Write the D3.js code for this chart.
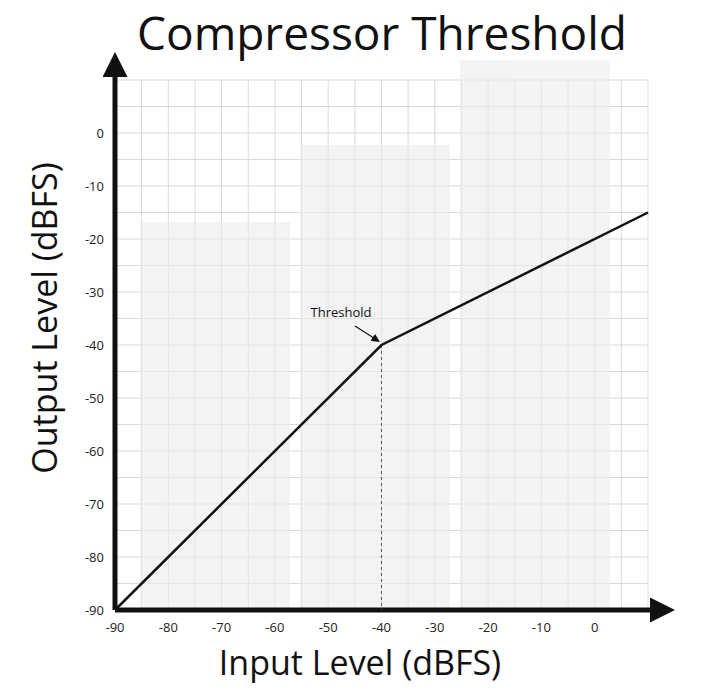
<!DOCTYPE html>
<html><head><meta charset="utf-8">
<script src="https://cdn.jsdelivr.net/npm/d3@7"></script>
<style>body{margin:0;background:#fff}</style>
</head><body><div id="chart"></div>
<script>
// transfer curve points (input dBFS, output dBFS)
const curveIn = [-90, -40, 10]
const curveOut = [-90, -40, -15]
const xTicks = [-90, -80, -70, -60, -50, -40, -30, -20, -10, 0]
const yTicks = [-90, -80, -70, -60, -50, -40, -30, -20, -10, 0]
const thresholdValue = -40

const W = 720, H = 691
const svg = d3.select('#chart').append('svg').attr('width', W).attr('height', H)

const x = d3.scaleLinear().domain([-90, 10]).range([115, 648])
const y = d3.scaleLinear().domain([-90, 10]).range([610, 80])

// grid
const grid = svg.append('g').attr('stroke', '#d9d9d9').attr('stroke-width', 1)
d3.range(-90, 11, 5).forEach(v => {
  grid.append('line').attr('x1', x(v)).attr('x2', x(v)).attr('y1', y(-90)).attr('y2', y(10))
  grid.append('line').attr('y1', y(v)).attr('y2', y(v)).attr('x1', x(-90)).attr('x2', x(10))
})

// faint watermark blocks
const wm = svg.append('g').attr('fill', '#ececec').attr('opacity', 0.6)
wm.append('rect').attr('x', 140).attr('y', 222).attr('width', 150).attr('height', 388)
wm.append('rect').attr('x', 300).attr('y', 145).attr('width', 150).attr('height', 465)
wm.append('rect').attr('x', 460).attr('y', 60).attr('width', 150).attr('height', 550)

// axes arrows
svg.append('defs').append('marker').attr('id', 'arr').attr('viewBox', '0 0 10 10')
  .attr('refX', 2).attr('refY', 5).attr('markerWidth', 5).attr('markerHeight', 5).attr('orient', 'auto')
  .append('path').attr('d', 'M0,0L10,5L0,10z').attr('fill', '#111')
svg.append('line').attr('x1', x(-90)).attr('y1', y(-90)).attr('x2', x(-90)).attr('y2', 72)
  .attr('stroke', '#111').attr('stroke-width', 5).attr('marker-end', 'url(#arr)')
svg.append('line').attr('x1', x(-90)).attr('y1', y(-90)).attr('x2', 655).attr('y2', y(-90))
  .attr('stroke', '#111').attr('stroke-width', 5).attr('marker-end', 'url(#arr)')

const font = 'Open Sans, sans-serif'
svg.append('g').selectAll('text').data(xTicks).join('text')
  .attr('x', d => x(d)).attr('y', y(-90) + 22).attr('text-anchor', 'middle')
  .attr('font-family', font).attr('font-size', 13).attr('fill', '#222').text(d => d)
svg.append('g').selectAll('text').data(yTicks).join('text')
  .attr('x', 104).attr('y', d => y(d) + 5).attr('text-anchor', 'end')
  .attr('font-family', font).attr('font-size', 13).attr('fill', '#222').text(d => d)

// threshold dashed line
svg.append('line').attr('x1', x(thresholdValue)).attr('x2', x(thresholdValue))
  .attr('y1', y(-40)).attr('y2', y(-90)).attr('stroke', '#555').attr('stroke-dasharray', '3,3')

// curve
svg.append('path').datum(d3.zip(curveIn, curveOut))
  .attr('d', d3.line().x(d => x(d[0])).y(d => y(d[1])))
  .attr('fill', 'none').attr('stroke', '#111').attr('stroke-width', 2.5)

// threshold label + arrow
svg.append('text').attr('x', 341).attr('y', 317).attr('text-anchor', 'middle')
  .attr('font-family', font).attr('font-size', 13).attr('fill', '#111').text('Threshold')
svg.append('defs').append('marker').attr('id', 'arr2').attr('viewBox', '0 0 10 10')
  .attr('refX', 8).attr('refY', 5).attr('markerWidth', 7).attr('markerHeight', 7).attr('orient', 'auto')
  .append('path').attr('d', 'M0,0L10,5L0,10z').attr('fill', '#111')
svg.append('line').attr('x1', 355).attr('y1', 326).attr('x2', x(-40) - 3).attr('y2', y(-40) - 4)
  .attr('stroke', '#111').attr('stroke-width', 1.2).attr('marker-end', 'url(#arr2)')

svg.append('text').attr('x', 382).attr('y', 50).attr('text-anchor', 'middle')
  .attr('font-family', font).attr('font-size', 46).attr('fill', '#111').text('Compressor Threshold')
svg.append('text').attr('x', 360).attr('y', 675).attr('text-anchor', 'middle')
  .attr('font-family', font).attr('font-size', 34).attr('fill', '#111').text('Input Level (dBFS)')
svg.append('text').attr('transform', 'translate(57,318) rotate(-90)').attr('text-anchor', 'middle')
  .attr('font-family', font).attr('font-size', 34).attr('fill', '#111').text('Output Level (dBFS)')
</script></body></html>
